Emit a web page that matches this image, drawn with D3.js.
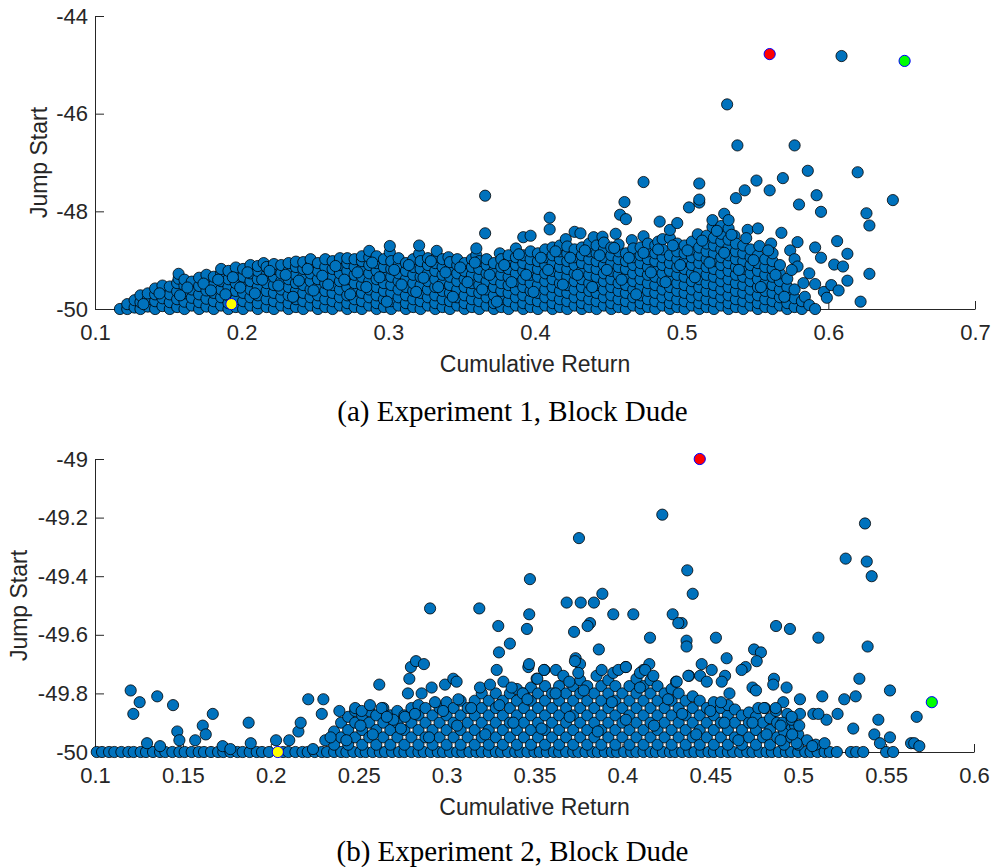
<!DOCTYPE html>
<html>
<head>
<meta charset="utf-8">
<script src="https://cdn.jsdelivr.net/npm/d3@7"></script>
<style>
  html, body { margin: 0; padding: 0; background: #ffffff; }
  svg { display: block; }
</style>
</head>
<body>
<svg id="chart" width="995" height="867"></svg>
<script>
// ---------------- DATA ----------------
const exp1XTicks = [0.1, 0.2, 0.3, 0.4, 0.5, 0.6, 0.7];
const exp1YTicks = [-50, -48, -46, -44];
const exp2XTicks = [0.1, 0.15, 0.2, 0.25, 0.3, 0.35, 0.4, 0.45, 0.5, 0.55, 0.6];
const exp2YTicks = [-50, -49.8, -49.6, -49.4, -49.2, -49];

const xLabel = "Cumulative Return";
const yLabel = "Jump Start";
const captions = ["(a) Experiment 1, Block Dude", "(b) Experiment 2, Block Dude"];

// Experiment 1: [cumulative return, [jump start values at that return]]
const exp1Columns = [
[0.117,[-50]],[0.122,[-50,-49.90]],[0.127,[-49.97,-49.82]],[0.131,[-50,-49.86,-49.72]],
[0.136,[-49.95,-49.80,-49.68]],[0.141,[-50,-49.84,-49.70,-49.58]],[0.146,[-49.94,-49.78,-49.62,-49.52]],
[0.151,[-50,-49.86,-49.70,-49.54]],[0.156,[-49.96,-49.80,-49.64,-49.47]],[0.157,[-49.38,-49.28]],
[0.161,[-50,-49.85,-49.68,-49.52,-49.40]],[0.166,[-49.93,-49.77,-49.60,-49.44]],
[0.171,[-50,-49.86,-49.70,-49.53,-49.36]],[0.176,[-49.95,-49.79,-49.62,-49.46,-49.30]],
[0.181,[-50,-49.84,-49.67,-49.51,-49.34]],[0.186,[-49.93,-49.76,-49.60,-49.43,-49.27,-49.18]],
[0.191,[-50,-49.88,-49.72,-49.55,-49.39,-49.22]],[0.196,[-49.96,-49.80,-49.63,-49.47,-49.30,-49.15]],
[0.201,[-50,-49.84,-49.67,-49.51,-49.34,-49.18]],[0.206,[-49.93,-49.76,-49.60,-49.43,-49.27,-49.10]],
[0.211,[-50,-49.88,-49.72,-49.55,-49.39,-49.22,-49.12]],[0.215,[-49.06]],
[0.217,[-49.96,-49.80,-49.63,-49.47,-49.30,-49.14]],[0.222,[-50,-49.84,-49.67,-49.51,-49.34,-49.18,-49.08]],
[0.227,[-49.93,-49.76,-49.60,-49.43,-49.27,-49.10]],[0.232,[-50,-49.88,-49.72,-49.55,-49.39,-49.22,-49.06]],
[0.237,[-49.96,-49.80,-49.63,-49.47,-49.30,-49.14,-49.03]],[0.242,[-50,-49.84,-49.67,-49.51,-49.34,-49.18,-49.04]],
[0.247,[-49.93,-49.76,-49.60,-49.43,-49.27,-49.10,-48.98]],[0.252,[-50,-49.88,-49.72,-49.55,-49.39,-49.22,-49.06]],
[0.257,[-49.96,-49.80,-49.63,-49.47,-49.30,-49.14,-48.98]],[0.262,[-50,-49.84,-49.67,-49.51,-49.34,-49.18,-49.02]],
[0.267,[-49.93,-49.76,-49.60,-49.43,-49.27,-49.10,-48.96]],[0.272,[-50,-49.88,-49.72,-49.55,-49.39,-49.22,-49.06,-48.96]],
[0.277,[-49.96,-49.80,-49.63,-49.47,-49.30,-49.14,-48.98]],[0.282,[-50,-49.84,-49.67,-49.51,-49.34,-49.18,-49.02,-48.92]],
[0.287,[-49.93,-49.76,-49.60,-49.43,-49.27,-49.10,-48.94,-48.81]],[0.292,[-50,-49.88,-49.72,-49.55,-49.39,-49.22,-49.06,-48.92]],
[0.297,[-49.96,-49.80,-49.63,-49.47,-49.30,-49.14,-48.98]],[0.301,[-48.84,-48.71]],
[0.302,[-50,-49.84,-49.67,-49.51,-49.34,-49.18,-49.02]],[0.307,[-49.93,-49.76,-49.60,-49.43,-49.27,-49.10,-48.96]],
[0.312,[-50,-49.88,-49.72,-49.55,-49.39,-49.22,-49.06]],[0.317,[-49.96,-49.80,-49.63,-49.47,-49.30,-49.14,-48.98]],
[0.321,[-48.87,-48.70]],[0.322,[-50,-49.84,-49.67,-49.51,-49.34,-49.18,-49.02]],
[0.327,[-49.93,-49.76,-49.60,-49.43,-49.27,-49.10,-48.96]],[0.332,[-50,-49.88,-49.72,-49.55,-49.39,-49.22,-49.06]],
[0.333,[-48.93,-48.81]],[0.337,[-49.96,-49.80,-49.63,-49.47,-49.30,-49.14,-48.98]],[0.341,[-48.94]],
[0.342,[-50,-49.84,-49.67,-49.51,-49.34,-49.18,-49.04]],[0.347,[-49.93,-49.76,-49.60,-49.43,-49.27,-49.10,-48.98]],
[0.352,[-50,-49.88,-49.72,-49.55,-49.39,-49.22,-49.06]],[0.357,[-49.96,-49.80,-49.63,-49.47,-49.30,-49.14,-48.98]],
[0.360,[-48.90,-48.76]],[0.362,[-50,-49.84,-49.67,-49.51,-49.34,-49.18,-49.02]],[0.366,[-48.45,-47.68]],
[0.367,[-49.93,-49.76,-49.60,-49.43,-49.27,-49.10,-48.98]],[0.372,[-50,-49.88,-49.72,-49.55,-49.39,-49.22,-49.06]],
[0.376,[-48.86]],[0.377,[-49.96,-49.80,-49.63,-49.47,-49.30,-49.14,-48.98]],
[0.382,[-50,-49.84,-49.67,-49.51,-49.34,-49.18,-49.02,-48.90]],[0.387,[-49.93,-49.76,-49.60,-49.43,-49.27,-49.10,-48.94,-48.76]],
[0.392,[-50,-49.88,-49.72,-49.55,-49.39,-49.22,-49.06,-48.90,-48.53]],[0.397,[-49.96,-49.80,-49.63,-49.47,-49.30,-49.14,-48.98,-48.82,-48.50]],
[0.402,[-50,-49.84,-49.67,-49.51,-49.34,-49.18,-49.02,-48.86]],[0.407,[-49.93,-49.76,-49.60,-49.43,-49.27,-49.10,-48.94,-48.78]],
[0.410,[-48.37,-48.13]],[0.412,[-50,-49.88,-49.72,-49.55,-49.39,-49.22,-49.06,-48.90,-48.74]],
[0.417,[-49.96,-49.80,-49.63,-49.47,-49.30,-49.14,-48.98,-48.82,-48.70]],[0.421,[-48.57]],
[0.422,[-50,-49.84,-49.67,-49.51,-49.34,-49.18,-49.02,-48.86,-48.72]],[0.427,[-49.93,-49.76,-49.60,-49.43,-49.27,-49.10,-48.94,-48.78,-48.42]],
[0.431,[-48.45]],[0.432,[-50,-49.88,-49.72,-49.55,-49.39,-49.22,-49.06,-48.90,-48.74]],
[0.437,[-49.96,-49.80,-49.63,-49.47,-49.30,-49.14,-48.98,-48.82,-48.66]],[0.440,[-48.53]],
[0.442,[-50,-49.84,-49.67,-49.51,-49.34,-49.18,-49.02,-48.86,-48.70]],[0.446,[-48.52]],
[0.447,[-49.93,-49.76,-49.60,-49.43,-49.27,-49.10,-48.94,-48.78,-48.64]],[0.452,[-50,-49.88,-49.72,-49.55,-49.39,-49.22,-49.06,-48.90,-48.74]],
[0.455,[-48.46]],[0.457,[-49.96,-49.80,-49.63,-49.47,-49.30,-49.14,-48.98,-48.82,-48.68]],[0.458,[-48.07]],[0.461,[-47.81]],
[0.462,[-50,-49.84,-49.67,-49.51,-49.34,-49.18,-49.02,-48.86,-48.16]],[0.466,[-48.59]],
[0.467,[-49.93,-49.76,-49.60,-49.43,-49.27,-49.10,-48.94,-48.76]],[0.472,[-50,-49.88,-49.72,-49.55,-49.39,-49.22,-49.06,-48.90,-48.74]],
[0.474,[-48.51,-47.40]],[0.477,[-49.96,-49.80,-49.63,-49.47,-49.30,-49.14,-48.98,-48.82,-48.66]],
[0.482,[-50,-49.84,-49.67,-49.51,-49.34,-49.18,-49.02,-48.86,-48.70]],[0.484,[-48.62]],[0.485,[-48.21]],
[0.487,[-49.93,-49.76,-49.60,-49.43,-49.27,-49.10,-48.94,-48.78,-48.57]],[0.492,[-50,-49.88,-49.72,-49.55,-49.39,-49.22,-49.06,-48.90,-48.55,-48.38]],
[0.497,[-49.96,-49.80,-49.63,-49.47,-49.30,-49.14,-48.98,-48.82,-48.66,-48.24]],[0.502,[-50,-49.84,-49.67,-49.51,-49.34,-49.18,-49.02,-48.86,-48.70]],
[0.505,[-47.92]],[0.507,[-49.93,-49.76,-49.60,-49.43,-49.27,-49.10,-48.94,-48.78,-48.62]],[0.511,[-48.47]],
[0.512,[-50,-49.88,-49.72,-49.55,-49.39,-49.22,-49.06,-48.90,-48.74,-47.82,-47.76,-47.43]],
[0.517,[-49.96,-49.80,-49.63,-49.47,-49.30,-49.14,-48.98,-48.82,-48.66,-48.50]],[0.521,[-48.32,-48.18]],
[0.522,[-50,-49.84,-49.67,-49.51,-49.34,-49.18,-49.02,-48.86,-48.70,-48.54]],
[0.527,[-49.93,-49.76,-49.60,-49.43,-49.27,-49.10,-48.94,-48.78,-48.62,-48.46,-48.30]],[0.529,[-48.05]],[0.531,[-45.81]],
[0.532,[-50,-49.88,-49.72,-49.55,-49.39,-49.22,-49.06,-48.90,-48.74,-48.58,-48.35,-48.18]],[0.536,[-48.50]],
[0.537,[-49.96,-49.80,-49.63,-49.47,-49.30,-49.14,-48.98,-48.82,-48.66,-47.73]],[0.538,[-46.65]],
[0.542,[-50,-49.84,-49.67,-49.51,-49.34,-49.18,-49.02,-48.86,-48.70]],[0.543,[-47.57]],[0.545,[-48.38]],
[0.547,[-49.93,-49.76,-49.60,-49.43,-49.27,-49.10,-48.94,-48.78]],[0.551,[-47.37]],
[0.552,[-50,-49.88,-49.72,-49.55,-49.39,-49.22,-49.06,-48.90,-48.35]],[0.553,[-48.71]],
[0.557,[-49.96,-49.80,-49.63,-49.47,-49.30,-49.14,-48.98]],[0.560,[-47.57]],[0.561,[-48.66]],
[0.562,[-50,-49.84,-49.67,-49.51,-49.34,-49.18,-49.02,-48.86]],[0.567,[-49.93,-49.76,-49.60,-49.43,-49.27,-49.10]],
[0.568,[-48.44]],[0.569,[-47.32]],[0.572,[-50,-49.88,-49.72,-49.55,-49.38]],[0.574,[-48.80]],
[0.577,[-49.96,-49.78,-49.60,-48.98,-46.65]],[0.579,[-49.13,-48.63]],[0.580,[-47.86]],[0.582,[-50,-49.84]],
[0.583,[-49.47]],[0.584,[-49.75]],[0.586,[-47.17]],[0.587,[-49.92,-49.27]],[0.591,[-50,-49.49,-48.74]],
[0.592,[-47.67]],[0.595,[-48.95,-48.01]],[0.597,[-49.65]],[0.599,[-49.77]],[0.602,[-49.51]],[0.604,[-49.09]],
[0.606,[-48.61]],[0.607,[-49.62]],[0.609,[-44.82]],[0.610,[-49.13]],[0.613,[-49.42,-48.87]],[0.620,[-47.20]],
[0.622,[-49.85]],[0.626,[-48.04]],[0.628,[-49.28,-48.29]],[0.644,[-47.77]]
];

// Experiment 1: further runs inside the dense band [cumulative return, jump start]
const exp1Extra = [
[0.133,-49.90],[0.144,-49.68],[0.158,-49.72],[0.163,-49.56],[0.174,-49.48],[0.179,-49.62],[0.184,-49.40],
[0.189,-49.70],[0.194,-49.35],[0.199,-49.56],[0.204,-49.25],[0.209,-49.68],[0.214,-49.40],[0.219,-49.22],
[0.225,-49.52],[0.230,-49.30],[0.235,-49.75],[0.239,-49.42],[0.245,-49.18],[0.249,-49.62],[0.255,-49.32],
[0.259,-49.50],[0.264,-49.12],[0.270,-49.40],[0.274,-49.70],[0.279,-49.25],[0.285,-49.55],[0.289,-49.05],
[0.294,-49.35],[0.299,-49.85],[0.304,-49.20],[0.309,-49.50],[0.314,-49.10],[0.319,-49.65],[0.324,-49.36],
[0.329,-49.02],[0.334,-49.55],[0.339,-49.25],[0.344,-49.75],[0.349,-49.15],[0.354,-49.45],[0.359,-49.05],
[0.364,-49.60],[0.369,-49.30],[0.374,-49.85],[0.379,-49.10],[0.384,-49.45],[0.389,-48.88],[0.394,-49.30],
[0.399,-49.65],[0.404,-48.95],[0.409,-49.20],[0.414,-48.82],[0.419,-49.50],[0.424,-48.95],[0.429,-49.30],
[0.434,-48.80],[0.439,-49.55],[0.444,-48.90],[0.449,-49.20],[0.454,-48.75],[0.459,-49.40],[0.464,-48.95],
[0.469,-49.70],[0.474,-48.85],[0.479,-49.25],[0.484,-48.78],[0.489,-49.45],[0.494,-48.70],[0.499,-49.10],
[0.504,-48.80],[0.509,-49.35],[0.514,-48.60],[0.519,-49.05],[0.524,-48.40],[0.529,-48.85],[0.534,-48.48],
[0.539,-49.20],[0.544,-48.55],[0.549,-49.00],[0.554,-49.55],[0.559,-48.80],[0.564,-49.30],[0.570,-49.75],
[0.575,-49.20]
];

// Experiment 2: returns of the many runs sitting exactly at a jump start of -50
const exp2AtFloor = [
0.101,0.104,0.108,0.111,0.115,0.119,0.122,0.126,0.129,0.133,0.137,0.140,0.144,0.148,0.151,0.155,0.159,0.162,
0.166,0.170,0.173,0.177,0.181,0.184,0.188,0.192,0.195,0.199,0.207,0.210,0.214,0.218,0.221,0.225,0.229,0.232,
0.236,0.240,0.243,0.247,0.251,0.254,0.258,0.262,0.265,0.269,0.273,0.276,0.280,0.284,0.287,0.291,0.295,0.298,
0.302,0.306,0.309,0.313,0.317,0.320,0.324,0.328,0.331,0.335,0.339,0.342,0.346,0.350,0.353,0.357,0.361,0.364,
0.368,0.372,0.375,0.379,0.383,0.386,0.390,0.394,0.397,0.401,0.405,0.408,0.412,0.416,0.419,0.423,0.427,0.430,
0.434,0.438,0.441,0.445,0.449,0.452,0.456,0.460,0.463,0.467,0.471,0.474,0.478,0.482,0.485,0.489,0.493,0.496,
0.500,0.504,0.507,0.511,0.515,0.518,0.522,0.530,0.533,0.537,0.550,0.554
];

// Experiment 2: dense body [cumulative return, [jump start values]]
const exp2Columns = [
[0.236,[-49.975,-49.93]],[0.240,[-49.95,-49.90]],[0.244,[-49.975,-49.925,-49.88]],[0.248,[-49.95,-49.90,-49.86]],
[0.252,[-49.975,-49.925,-49.875]],[0.256,[-49.95,-49.90,-49.86]],[0.260,[-49.975,-49.925,-49.875]],
[0.264,[-49.95,-49.90,-49.85]],[0.268,[-49.975,-49.925,-49.875]],[0.272,[-49.95,-49.90,-49.86]],
[0.276,[-49.975,-49.925,-49.875]],[0.280,[-49.95,-49.90,-49.85]],[0.284,[-49.975,-49.925,-49.875,-49.84]],
[0.288,[-49.95,-49.90,-49.85]],[0.292,[-49.975,-49.925,-49.875]],[0.296,[-49.95,-49.90,-49.85]],
[0.300,[-49.975,-49.925,-49.875,-49.83]],[0.304,[-49.95,-49.90,-49.85]],[0.308,[-49.975,-49.925,-49.875,-49.825]],
[0.312,[-49.95,-49.90,-49.85]],[0.316,[-49.975,-49.925,-49.875,-49.825]],[0.320,[-49.95,-49.90,-49.85,-49.80]],
[0.324,[-49.975,-49.925,-49.875,-49.825]],[0.328,[-49.95,-49.90,-49.85,-49.80]],[0.332,[-49.975,-49.925,-49.875,-49.825]],
[0.336,[-49.95,-49.90,-49.85,-49.80]],[0.340,[-49.975,-49.925,-49.875,-49.825,-49.785]],[0.344,[-49.95,-49.90,-49.85,-49.80]],
[0.348,[-49.975,-49.925,-49.875,-49.825,-49.78]],[0.352,[-49.95,-49.90,-49.85,-49.80]],
[0.356,[-49.975,-49.925,-49.875,-49.825,-49.775]],[0.360,[-49.95,-49.90,-49.85,-49.80]],
[0.364,[-49.975,-49.925,-49.875,-49.825,-49.775]],[0.368,[-49.95,-49.90,-49.85,-49.80]],
[0.372,[-49.975,-49.925,-49.875,-49.825,-49.775]],[0.376,[-49.95,-49.90,-49.85,-49.80,-49.755]],
[0.380,[-49.975,-49.925,-49.875,-49.825,-49.775]],[0.384,[-49.95,-49.90,-49.85,-49.80]],
[0.388,[-49.975,-49.925,-49.875,-49.825,-49.775]],[0.392,[-49.95,-49.90,-49.85,-49.80,-49.755]],
[0.396,[-49.975,-49.925,-49.875,-49.825,-49.775]],[0.400,[-49.95,-49.90,-49.85,-49.80]],
[0.404,[-49.975,-49.925,-49.875,-49.825,-49.775]],[0.408,[-49.95,-49.90,-49.85,-49.80,-49.75]],
[0.412,[-49.975,-49.925,-49.875,-49.825,-49.775]],[0.416,[-49.95,-49.90,-49.85,-49.80,-49.755]],
[0.420,[-49.975,-49.925,-49.875,-49.825,-49.775]],[0.424,[-49.95,-49.90,-49.85,-49.80]],
[0.428,[-49.975,-49.925,-49.875,-49.825,-49.785]],[0.432,[-49.95,-49.90,-49.85,-49.80]],
[0.436,[-49.975,-49.925,-49.875,-49.825]],[0.440,[-49.95,-49.90,-49.85,-49.81]],
[0.444,[-49.975,-49.925,-49.875,-49.825]],[0.448,[-49.95,-49.90,-49.85]],[0.452,[-49.975,-49.925,-49.875,-49.83]],
[0.456,[-49.95,-49.90,-49.85]],[0.460,[-49.975,-49.925,-49.875,-49.84]],[0.464,[-49.95,-49.90,-49.855]],
[0.468,[-49.975,-49.925,-49.875]],[0.472,[-49.95,-49.90,-49.865]],[0.476,[-49.975,-49.925,-49.88]],
[0.480,[-49.95,-49.90]],[0.484,[-49.975,-49.925,-49.885]],[0.488,[-49.95,-49.90]],[0.492,[-49.975,-49.93]],
[0.496,[-49.95,-49.91]],[0.500,[-49.975,-49.94]],[0.505,[-49.96]],[0.510,[-49.975]],[0.515,[-49.97]]
];

// Experiment 2: scattered runs [cumulative return, jump start]
const exp2Scatter = [
[0.1203,-49.79],[0.1218,-49.87],[0.1254,-49.83],[0.1354,-49.81],[0.1444,-49.84],[0.1468,-49.93],[0.148,-49.96],
[0.1296,-49.97],[0.137,-49.98],[0.157,-49.96],[0.1613,-49.91],[0.163,-49.94],[0.167,-49.87],[0.1726,-49.98],
[0.177,-49.99],[0.1874,-49.90],[0.1886,-49.97],[0.203,-49.96],[0.2105,-49.96],[0.2157,-49.93],[0.217,-49.90],
[0.2213,-49.82],[0.2299,-49.82],[0.229,-49.87],[0.224,-49.99],[0.231,-49.96],[0.234,-49.95],[0.239,-49.86],
[0.248,-49.85],[0.2517,-49.86],[0.2564,-49.84],[0.2617,-49.77],[0.263,-49.85],[0.2697,-49.89],[0.2763,-49.88],
[0.278,-49.80],[0.2788,-49.75],[0.2797,-49.71],[0.2826,-49.69],[0.2871,-49.70],[0.2858,-49.80],[0.2915,-49.78],
[0.2934,-49.83],[0.2906,-49.51],[0.3186,-49.51],[0.2991,-49.77],[0.3038,-49.75],[0.3057,-49.76],[0.3067,-49.82],
[0.319,-49.78],[0.3247,-49.77],[0.3285,-49.72],[0.3294,-49.57],[0.3298,-49.66],[0.336,-49.63],[0.3323,-49.76],
[0.337,-49.78],[0.3433,-49.80],[0.3474,-49.41],[0.347,-49.53],[0.3457,-49.58],[0.3465,-49.71],[0.3469,-49.70],
[0.3512,-49.75],[0.3556,-49.72],[0.3622,-49.72],[0.3664,-49.74],[0.3698,-49.76],[0.3683,-49.49],[0.3763,-49.49],
[0.3838,-49.49],[0.3886,-49.46],[0.3753,-49.27],[0.4227,-49.19],[0.4369,-49.38],[0.44,-49.46],[0.3948,-49.53],
[0.4062,-49.53],[0.4286,-49.53],[0.4337,-49.56],[0.3816,-49.56],[0.3802,-49.57],[0.3725,-49.59],[0.4157,-49.61],
[0.4365,-49.62],[0.4365,-49.64],[0.4532,-49.61],[0.4874,-49.57],[0.4953,-49.58],[0.5115,-49.61],[0.527,-49.34],
[0.538,-49.22],[0.539,-49.35],[0.5418,-49.40],[0.5395,-49.64],[0.3866,-49.65],[0.3734,-49.68],[0.3759,-49.70],
[0.4593,-49.68],[0.4749,-49.65],[0.4788,-49.66],[0.4764,-49.69],[0.4451,-49.70],[0.4508,-49.72],[0.4701,-49.71],
[0.4678,-49.72],[0.4019,-49.71],[0.4119,-49.72],[0.4153,-49.70],[0.4379,-49.74],[0.4584,-49.74],[0.4862,-49.75],
[0.4858,-49.77],[0.4934,-49.78],[0.501,-49.82],[0.5137,-49.81],[0.5262,-49.82],[0.5327,-49.81],[0.5348,-49.75],
[0.5522,-49.79],[0.5674,-49.88],[0.5456,-49.89],[0.5313,-49.92],[0.5433,-49.94],[0.5522,-49.95],[0.5465,-49.97],
[0.5642,-49.97],[0.566,-49.97],[0.5689,-49.98],[0.5161,-49.89],[0.5224,-49.87],[0.5086,-49.87],[0.5115,-49.87],
[0.508,-49.98],[0.4991,-49.97],[0.4915,-49.83],[0.4938,-49.87],[0.4982,-49.91],[0.4811,-49.85],[0.4874,-49.86],
[0.3853,-49.74],[0.3882,-49.72],[0.3948,-49.73],[0.3977,-49.72],[0.402,-49.71],[0.410,-49.73],[0.4129,-49.72],
[0.4176,-49.74],[0.4305,-49.76],[0.4318,-49.56],[0.3749,-49.73],[0.373,-49.69],[0.3554,-49.72],[0.3516,-49.75],
[0.4309,-49.76],[0.4375,-49.74],[0.4442,-49.74],[0.448,-49.76],[0.4565,-49.76],[0.4609,-49.80],[0.4561,-49.83],
[0.474,-49.78],[0.476,-49.79],[0.4773,-49.85],[0.4806,-49.85],[0.4911,-49.90],[0.4963,-49.89],[0.5006,-49.91],
[0.4966,-49.94],[0.49,-49.91],[0.4872,-49.85],[0.501,-49.87],[0.4963,-49.88],
[0.243,-49.96],[0.251,-49.91],[0.258,-49.94],[0.266,-49.88],[0.274,-49.92],[0.282,-49.87],[0.290,-49.95],
[0.298,-49.86],[0.306,-49.91],[0.314,-49.85],[0.322,-49.94],[0.330,-49.84],[0.338,-49.90],[0.346,-49.82],
[0.354,-49.92],[0.362,-49.80],[0.370,-49.88],[0.378,-49.79],[0.386,-49.93],[0.394,-49.83],[0.402,-49.89],
[0.410,-49.78],[0.418,-49.91],[0.426,-49.82],[0.434,-49.87],[0.442,-49.94],[0.450,-49.86],[0.458,-49.90],
[0.466,-49.96],[0.474,-49.90],[0.482,-49.94],[0.490,-49.96]
];

// Highlighted runs [cumulative return, jump start]
const exp1Best  = [0.560, -44.78];
const exp1Final = [0.652, -44.92];
const exp1Start = [0.193, -49.90];
const exp2Best  = [0.444, -49.00];
const exp2Final = [0.576, -49.83];
const exp2Start = [0.204, -50.00];

// ---------------- DRAWING ----------------
const svg = d3.select("#chart");
const blue = "#0072BD";
const axisColor = "#262626";
const sansFont = "'Liberation Sans', Arial, Helvetica, sans-serif";
const serifFont = "'Liberation Serif', 'Times New Roman', Times, serif";
const markerR = 5.6;

function flattenColumns(cols) {
  const out = [];
  cols.forEach(([x, ys]) => ys.forEach(y => out.push([x, y])));
  return out;
}

const exp1Points = flattenColumns(exp1Columns).concat(exp1Extra);
const exp2Points = exp2AtFloor.map(x => [x, -50])
  .concat(flattenColumns(exp2Columns))
  .concat(exp2Scatter);

function drawPanel(cfg) {
  const x = d3.scaleLinear().domain(cfg.xDomain).range([cfg.left, cfg.right]);
  const y = d3.scaleLinear().domain(cfg.yDomain).range([cfg.bottom, cfg.top]);
  const g = svg.append("g");

  const xAxis = d3.axisBottom(x).tickValues(cfg.xTicks)
    .tickFormat(d => String(+d.toFixed(2)))
    .tickSizeInner(-8).tickSizeOuter(0).tickPadding(15);
  const yAxis = d3.axisLeft(y).tickValues(cfg.yTicks)
    .tickFormat(d => String(+d.toFixed(1)))
    .tickSizeInner(-9).tickSizeOuter(0).tickPadding(7);

  const gx = g.append("g").attr("transform", `translate(0,${cfg.bottom})`).call(xAxis);
  const gy = g.append("g").attr("transform", `translate(${cfg.left},0)`).call(yAxis);
  [gx, gy].forEach(a => {
    a.select(".domain").attr("stroke", axisColor).attr("stroke-width", 1);
    a.selectAll(".tick line").attr("stroke", axisColor).attr("stroke-width", 1);
    a.selectAll(".tick text").attr("fill", axisColor)
      .style("font-family", sansFont).style("font-size", "22px");
  });

  g.append("g").selectAll("circle").data(cfg.points).join("circle")
    .attr("cx", d => x(d[0])).attr("cy", d => y(d[1])).attr("r", markerR)
    .attr("fill", blue).attr("stroke", "#000").attr("stroke-width", 0.8);

  const marks = [[cfg.start, "#FFFF00"], [cfg.final, "#00FF00"], [cfg.best, "#FF0000"]];
  g.append("g").selectAll("circle").data(marks).join("circle")
    .attr("cx", d => x(d[0][0])).attr("cy", d => y(d[0][1])).attr("r", markerR)
    .attr("fill", d => d[1]).attr("stroke", "#0000FF").attr("stroke-width", 1);

  g.append("text").text(xLabel)
    .attr("x", (cfg.left + cfg.right) / 2).attr("y", cfg.xLabelY)
    .attr("text-anchor", "middle").attr("fill", axisColor)
    .style("font-family", sansFont).style("font-size", "23px");

  g.append("text").text(yLabel)
    .attr("transform", `translate(${cfg.yLabelX},${(cfg.top + cfg.bottom) / 2}) rotate(-90)`)
    .attr("text-anchor", "middle").attr("fill", axisColor)
    .style("font-family", sansFont).style("font-size", "23px");

  g.append("text").text(cfg.caption)
    .attr("x", 512.5).attr("y", cfg.captionY)
    .attr("text-anchor", "middle").attr("fill", "#000")
    .style("font-family", serifFont).style("font-size", "29px");
}

drawPanel({
  left: 95, right: 975, top: 16, bottom: 309,
  xDomain: [0.1, 0.7], yDomain: [-50, -44],
  xTicks: exp1XTicks, yTicks: exp1YTicks,
  points: exp1Points, best: exp1Best, final: exp1Final, start: exp1Start,
  xLabelY: 371.5, yLabelX: 46.5, caption: captions[0], captionY: 421
});

drawPanel({
  left: 95, right: 974, top: 459, bottom: 752,
  xDomain: [0.1, 0.6], yDomain: [-50, -49],
  xTicks: exp2XTicks, yTicks: exp2YTicks,
  points: exp2Points, best: exp2Best, final: exp2Final, start: exp2Start,
  xLabelY: 815, yLabelX: 26.5, caption: captions[1], captionY: 861
});
</script>
</body>
</html>
